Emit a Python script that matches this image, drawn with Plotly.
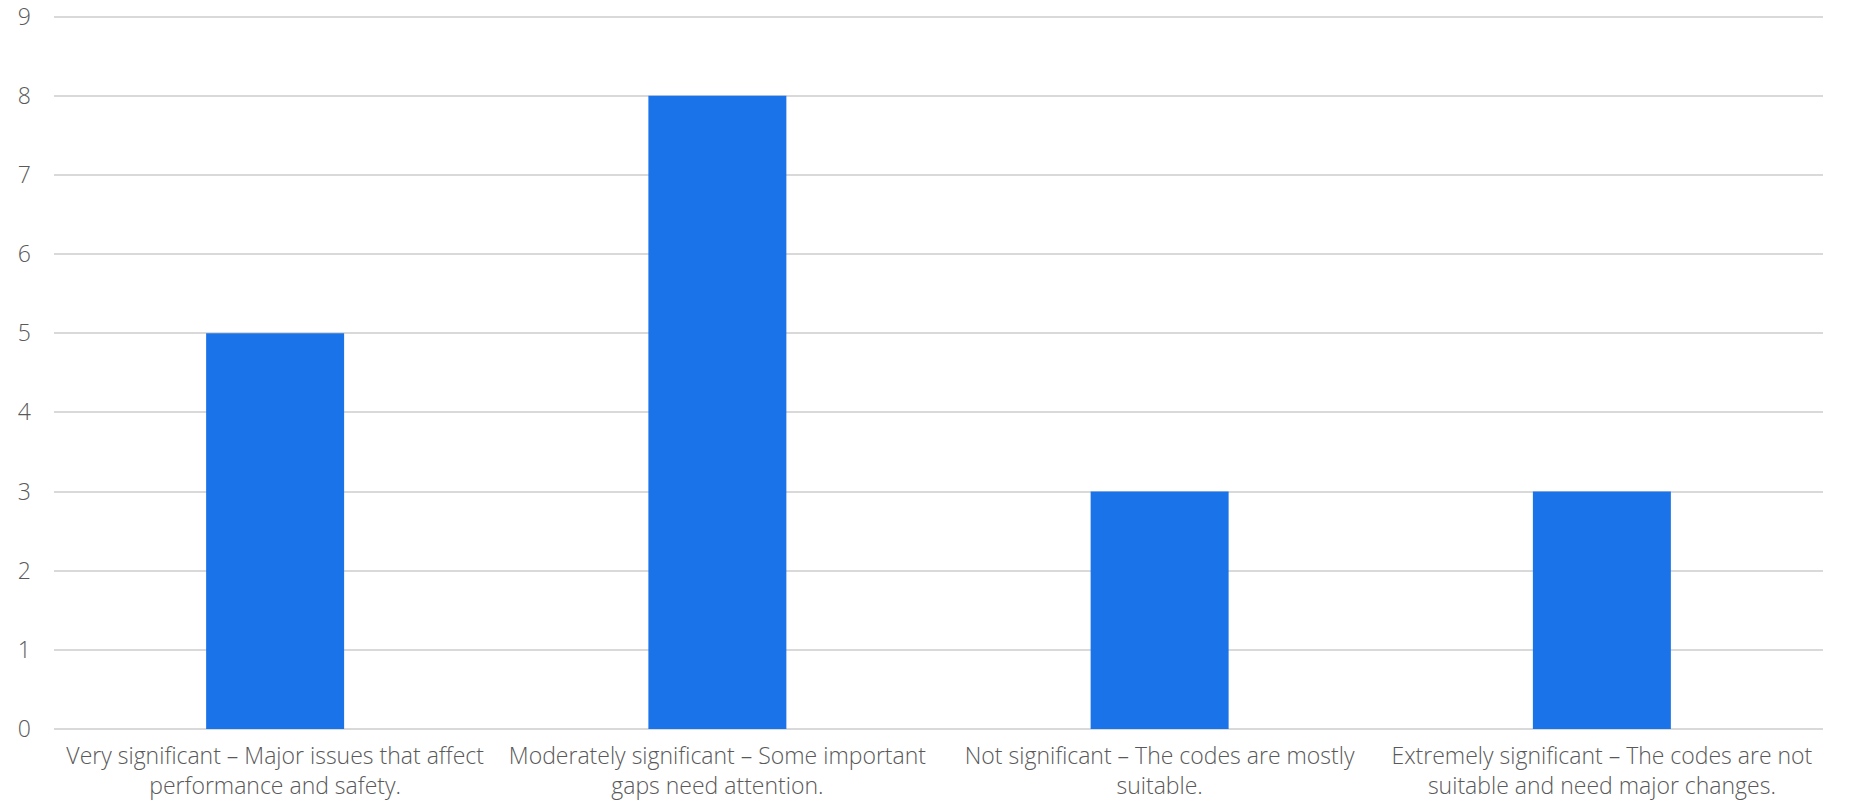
import plotly.graph_objects as go

categories = [
    "Very significant – Major issues that affect<br>performance and safety.",
    "Moderately significant – Some important<br>gaps need attention.",
    "Not significant – The codes are mostly<br>suitable.",
    "Extremely significant – The codes are not<br>suitable and need major changes.",
]
values = [5, 8, 3, 3]
y_ticks = list(range(0, 10))

fig = go.Figure(go.Bar(
    x=categories, y=values,
    marker=dict(color="#1A73E8", line=dict(width=0)),
))

font = dict(family="Open Sans", size=23, color="#595959", weight=300)

fig.update_layout(
    width=1850, height=804,
    margin=dict(l=54, r=27, t=15, b=75),
    paper_bgcolor="white", plot_bgcolor="white",
    bargap=0.688,
    font=font,
    showlegend=False,
)
fig.update_xaxes(
    showgrid=False, zeroline=False, showline=False, automargin=False,
    tickfont=font, ticks="", ticklabelstandoff=11, ticklabeloverflow="allow",
)
fig.update_yaxes(
    range=[0, 9.02], tickvals=y_ticks, showgrid=True, gridcolor="#D9D9D9", gridwidth=1.5,
    zeroline=True, zerolinecolor="#D9D9D9", zerolinewidth=1.5, automargin=False,
    showline=False, tickfont=font, ticks="", ticklabelstandoff=22, ticklabeloverflow="allow",
)

fig.write_html("out.html")
